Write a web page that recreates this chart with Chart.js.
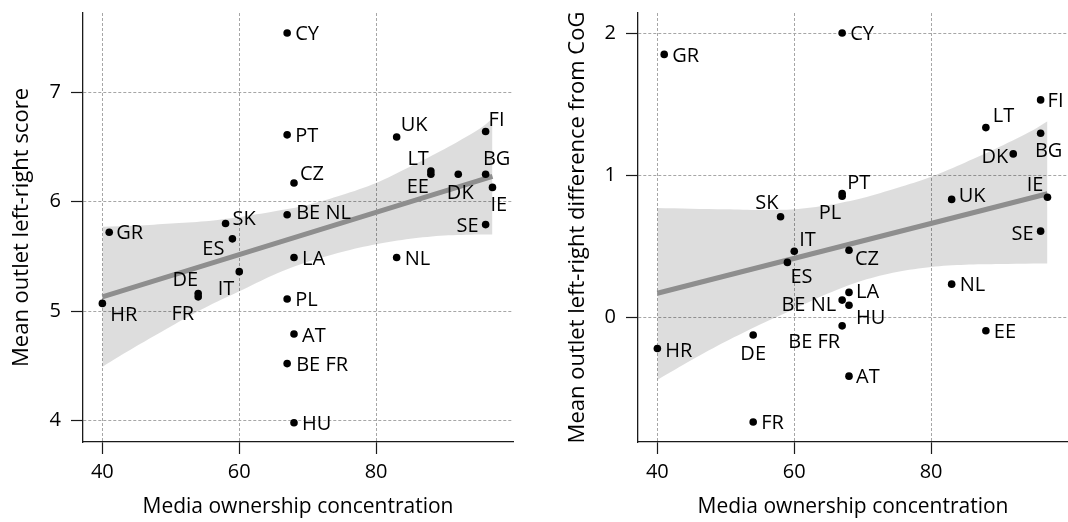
<!DOCTYPE html>
<html>
<head>
<meta charset="utf-8">
<script src="https://cdn.jsdelivr.net/npm/chart.js@4/dist/chart.umd.min.js"></script>
<style>
  html, body { margin: 0; padding: 0; background: #fff; }
  #wrap { display: flex; width: 1068px; height: 522px; }
  canvas { display: block; }
</style>
</head>
<body>
<div id="wrap">
  <canvas id="left-panel" width="534" height="522"></canvas>
  <canvas id="right-panel" width="534" height="522"></canvas>
</div>
<script>
// Shared axis ticks
const xTicks = [40, 60, 80];
const leftYTicks = [4, 5, 6, 7];
const rightYTicks = [0, 1, 2];

// Left panel: mean outlet left-right score
const leftCodes = ['CY', 'PT', 'CZ', 'BE NL', 'SK', 'ES', 'GR', 'UK', 'FI', 'LT', 'EE', 'DK', 'BG',
  'IE', 'SE', 'LA', 'NL', 'IT', 'DE', 'FR', 'HR', 'PL', 'AT', 'BE FR', 'HU'];
const leftX = [67, 67, 68, 67, 58, 59, 41, 83, 96, 88, 88, 92, 96, 97, 96, 68, 83, 60, 54, 54, 40, 67, 68, 67, 68];
const leftY = [7.54, 6.61, 6.17, 5.88, 5.80, 5.66, 5.72, 6.59, 6.64, 6.28, 6.25, 6.25, 6.25,
  6.13, 5.79, 5.49, 5.49, 5.36, 5.16, 5.13, 5.07, 5.11, 4.79, 4.52, 3.98];

// Right panel: difference from CoG
const rightCodes = ['CY', 'GR', 'FI', 'LT', 'BG', 'DK', 'IE', 'UK', 'PT', 'PL', 'SK', 'SE', 'IT',
  'CZ', 'ES', 'NL', 'LA', 'BE NL', 'HU', 'BE FR', 'EE', 'DE', 'HR', 'AT', 'FR'];
const rightX = [67, 41, 96, 88, 96, 92, 97, 83, 67, 67, 58, 96, 60, 68, 59, 83, 68, 67, 68, 67, 88, 54, 40, 68, 54];
const rightY = [2.00, 1.85, 1.53, 1.335, 1.295, 1.15, 0.845, 0.83, 0.872, 0.853, 0.708, 0.607, 0.466,
  0.473, 0.387, 0.234, 0.176, 0.122, 0.086, -0.059, -0.094, -0.124, -0.218, -0.413, -0.735];

// Linear fit and its confidence band
const fitX = [40, 97];
const leftFitY = [5.13, 6.23];
const rightFitY = [0.17, 0.87];
const bandX = [40, 45, 50, 55, 60, 65, 70, 75, 80, 85, 90, 95, 97];
const leftBandHi = [5.77, 5.78, 5.80, 5.82, 5.86, 5.91, 5.97, 6.06, 6.17, 6.32, 6.48, 6.66, 6.76];
const leftBandLo = [4.49, 4.68, 4.86, 5.03, 5.18, 5.33, 5.45, 5.54, 5.61, 5.66, 5.69, 5.70, 5.70];
const rightBandHi = [0.77, 0.765, 0.76, 0.755, 0.76, 0.79, 0.84, 0.91, 0.99, 1.09, 1.20, 1.32, 1.38];
const rightBandLo = [-0.44, -0.30, -0.17, -0.05, 0.06, 0.17, 0.26, 0.32, 0.355, 0.37, 0.375, 0.38, 0.38];

// Label placement next to each dot: [dx, dy, align]
const leftPlace = {
  'CY': [8, 0, 'left'], 'PT': [8, 0, 'left'], 'CZ': [6, -10, 'left'], 'BE NL': [9, -3, 'left'],
  'SK': [7, -6, 'left'], 'ES': [-8, 9, 'right'], 'GR': [7, 0, 'left'], 'UK': [4, -13, 'left'],
  'FI': [3, -13, 'left'], 'LT': [-2, -13, 'right'], 'EE': [-2, 12, 'right'], 'DK': [2, 18, 'center'],
  'BG': [11, -16, 'center'], 'IE': [-2, 16, 'left'], 'SE': [-7, 0, 'right'], 'LA': [8, 0, 'left'],
  'NL': [8, 0, 'left'], 'IT': [-5, 16, 'right'], 'DE': [0, -15, 'right'], 'FR': [-4, 16, 'right'],
  'HR': [8, 10, 'left'], 'PL': [8, 0, 'left'], 'AT': [8, 1, 'left'], 'BE FR': [9, 0, 'left'],
  'HU': [8, 0, 'left']
};
const rightPlace = {
  'CY': [8, 0, 'left'], 'GR': [8, 0, 'left'], 'FI': [7, 0, 'left'], 'LT': [7, -13, 'left'],
  'BG': [8, 17, 'center'], 'DK': [-5, 2, 'right'], 'IE': [-4, -13, 'right'], 'UK': [7, -5, 'left'],
  'PT': [5, -12, 'left'], 'PL': [-1, 16, 'right'], 'SK': [-2, -15, 'right'], 'SE': [-7, 2, 'right'],
  'IT': [5, -12, 'left'], 'CZ': [6, 8, 'left'], 'ES': [3, 13, 'left'], 'NL': [8, 0, 'left'],
  'LA': [7, -2, 'left'], 'BE NL': [-6, 4, 'right'], 'HU': [7, 12, 'left'], 'BE FR': [-2, 15, 'right'],
  'EE': [8, 0, 'left'], 'DE': [0, 18, 'center'], 'HR': [8, 1, 'left'], 'AT': [7, 0, 'left'],
  'FR': [8, 0, 'left']
};

const FONT_FAMILY = '"Open Sans", "Noto Sans", sans-serif';
const TEXT = '#000';
const AXIS = '#1a1a1a';
const GRID = '#a6a6a6';
const LABEL_SIZE = 20;

Chart.defaults.font.family = FONT_FAMILY;
Chart.defaults.color = TEXT;

const toPoints = (xs, ys) => xs.map((x, i) => ({ x, y: ys[i] }));

// draws the country code beside each dot of dataset 0
const pointLabels = {
  id: 'pointLabels',
  afterDatasetsDraw(chart, args, opts) {
    const meta = chart.getDatasetMeta(0);
    const ctx = chart.ctx;
    ctx.save();
    ctx.font = LABEL_SIZE + 'px ' + FONT_FAMILY;
    ctx.fillStyle = TEXT;
    ctx.textBaseline = 'alphabetic';
    const capHalf = LABEL_SIZE * 0.714 / 2;
    meta.data.forEach((pt, i) => {
      const code = opts.codes[i];
      const [dx, dy, align] = opts.place[code] || [8, 0, 'left'];
      ctx.textAlign = align;
      ctx.fillText(code, pt.x + dx, pt.y + dy + capHalf);
    });
    ctx.restore();
  }
};

function makePanel(id, p) {
  return new Chart(document.getElementById(id), {
    type: 'scatter',
    data: {
      datasets: [
        {
          label: 'countries',
          data: toPoints(p.xs, p.ys),
          backgroundColor: '#000',
          borderWidth: 0,
          pointRadius: 3.8,
        },
        {
          type: 'line',
          label: 'fit',
          data: toPoints(fitX, p.fitY),
          borderColor: '#8e8e8e',
          borderWidth: 5,
          borderCapStyle: 'butt',
          pointRadius: 0,
          fill: false,
        },
        {
          type: 'line',
          label: 'ci-hi',
          data: toPoints(bandX, p.hi),
          borderColor: 'transparent',
          backgroundColor: 'rgba(0,0,0,0.135)',
          pointRadius: 0,
          tension: 0.3,
          fill: '+1',
        },
        {
          type: 'line',
          label: 'ci-lo',
          data: toPoints(bandX, p.lo),
          borderColor: 'transparent',
          pointRadius: 0,
          tension: 0.3,
          fill: false,
        },
      ],
    },
    plugins: [pointLabels],
    options: {
      responsive: false,
      animation: false,
      events: [],
      layout: { autoPadding: false, padding: { top: 13, right: p.padRight, bottom: 0, left: 0 } },
      plugins: {
        legend: { display: false },
        tooltip: { enabled: false },
        pointLabels: { codes: p.codes, place: p.place },
      },
      scales: {
        x: {
          type: 'linear',
          min: 37.17,
          max: 100,
          afterBuildTicks: (s) => { s.ticks = xTicks.map((v) => ({ value: v })); },
          afterFit: (s) => { s.height = 80; s.paddingLeft = 0; s.paddingRight = 0; },
          grid: { color: GRID, lineWidth: 1, tickColor: AXIS, tickLength: 12, tickWidth: 1.2 },
          border: { color: AXIS, width: 1.3, dash: [3, 2] },
          ticks: { color: TEXT, font: { size: 20 }, padding: 6, maxRotation: 0 },
          title: {
            display: true,
            text: 'Media ownership concentration',
            color: TEXT,
            font: { size: 21 },
            padding: { top: 0, bottom: 2 },
          },
        },
        y: {
          type: 'linear',
          min: p.yMin,
          max: p.yMax,
          afterBuildTicks: (s) => { s.ticks = p.yTicks.map((v) => ({ value: v })); },
          afterFit: (s) => { s.width = p.yWidth; s.paddingTop = 0; s.paddingBottom = 0; },
          grid: { color: GRID, lineWidth: 1, tickColor: AXIS, tickLength: 12, tickWidth: 1.2 },
          border: { color: AXIS, width: 1.3, dash: [3, 2] },
          ticks: { color: TEXT, font: { size: 20 }, padding: 10 },
          title: {
            display: true,
            text: p.yTitle,
            color: TEXT,
            font: { size: 22 },
            padding: { top: p.yTitlePad, bottom: 0 },
          },
        },
      },
    },
  });
}

makePanel('left-panel', {
  xs: leftX, ys: leftY, codes: leftCodes, place: leftPlace,
  fitY: leftFitY, hi: leftBandHi, lo: leftBandLo,
  yTicks: leftYTicks, yMin: 3.804, yMax: 7.723,
  yTitle: 'Mean outlet left-right score', yTitlePad: 9,
  yWidth: 83, padRight: 21,
});

makePanel('right-panel', {
  xs: rightX, ys: rightY, codes: rightCodes, place: rightPlace,
  fitY: rightFitY, hi: rightBandHi, lo: rightBandLo,
  yTicks: rightYTicks, yMin: -0.876, yMax: 2.141,
  yTitle: 'Mean outlet left-right difference from CoG', yTitlePad: 31,
  yWidth: 104, padRight: 0,
});
</script>
</body>
</html>
